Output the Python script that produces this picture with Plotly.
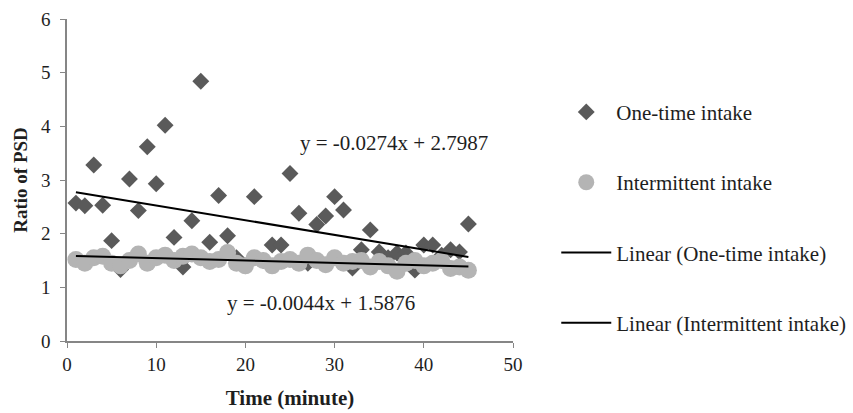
import plotly.graph_objects as go

minutes = list(range(1, 46))

one_time = [2.57, 2.52, 3.28, 2.53, 1.87, 1.33, 3.02, 2.43, 3.62, 2.93,
            4.02, 1.93, 1.38, 2.24, 4.84, 1.84, 2.71, 1.96, 1.55, 1.40,
            2.69, 1.50, 1.79, 1.79, 3.12, 2.38, 1.45, 2.17, 2.33, 2.69,
            2.44, 1.36, 1.70, 2.07, 1.66, 1.55, 1.64, 1.64, 1.32, 1.79,
            1.79, 1.60, 1.70, 1.66, 2.18]

intermittent = [1.52, 1.45, 1.55, 1.58, 1.45, 1.40, 1.50, 1.62, 1.45, 1.55,
                1.60, 1.50, 1.58, 1.62, 1.55, 1.48, 1.52, 1.65, 1.45, 1.40,
                1.55, 1.50, 1.40, 1.48, 1.52, 1.45, 1.60, 1.50, 1.42, 1.55,
                1.45, 1.48, 1.50, 1.38, 1.48, 1.40, 1.30, 1.45, 1.50, 1.40,
                1.45, 1.50, 1.35, 1.38, 1.32]

fit_one = (-0.0274, 2.7987)
fit_int = (-0.0044, 1.5876)
fit_x = [1, 45]

FONT = "Liberation Serif"
TXT = "#1e1e1e"

fig = go.Figure()
fig.add_trace(go.Scatter(x=minutes, y=one_time, mode="markers", name="One-time intake",
                         marker=dict(symbol="diamond", size=13, color="#5a5a5a"),
                         legendgroup="a"))
fig.add_trace(go.Scatter(x=minutes, y=intermittent, mode="markers", name="Intermittent intake",
                         marker=dict(symbol="circle", size=17, color="#b4b4b4"),
                         legendgroup="b"))
fig.add_trace(go.Scatter(x=fit_x, y=[fit_one[0] * v + fit_one[1] for v in fit_x], mode="lines",
                         name="Linear (One-time intake)", line=dict(color="black", width=2),
                         legendgroup="c"))
fig.add_trace(go.Scatter(x=fit_x, y=[fit_int[0] * v + fit_int[1] for v in fit_x], mode="lines",
                         name="Linear (Intermittent intake)", line=dict(color="black", width=2),
                         legendgroup="d"))

fig.add_annotation(x=36.7, y=3.69, text="y = -0.0274x + 2.7987", showarrow=False,
                   font=dict(family=FONT, size=21, color=TXT))
fig.add_annotation(x=28.5, y=0.71, text="y = -0.0044x + 1.5876", showarrow=False,
                   font=dict(family=FONT, size=21, color=TXT))

axis_common = dict(showline=True, linecolor="#868686", linewidth=1.5, ticks="outside",
                   tickcolor="#868686", ticklen=5, showgrid=False, zeroline=False,
                   tickfont=dict(family=FONT, size=19, color=TXT))

fig.update_xaxes(range=[0, 50], dtick=10, title=dict(text="<b>Time (minute)</b>",
                 font=dict(family=FONT, size=21, color=TXT), standoff=17), **axis_common)
fig.update_yaxes(range=[0, 6], dtick=1, ticklabelstandoff=6,
                 title=dict(text="<b>Ratio of PSD</b>",
                 font=dict(family=FONT, size=19, color=TXT), standoff=8), **axis_common)

fig.update_layout(
    width=853, height=413,
    margin=dict(l=67, r=340, t=19, b=72, autoexpand=False),
    plot_bgcolor="white", paper_bgcolor="white",
    showlegend=True,
    legend=dict(x=1.097, y=0.774, xanchor="left", yanchor="top",
                font=dict(family=FONT, size=21, color=TXT),
                tracegroupgap=40, itemwidth=50, itemsizing="trace",
                bgcolor="rgba(0,0,0,0)"),
)

fig.write_html("out.html")
